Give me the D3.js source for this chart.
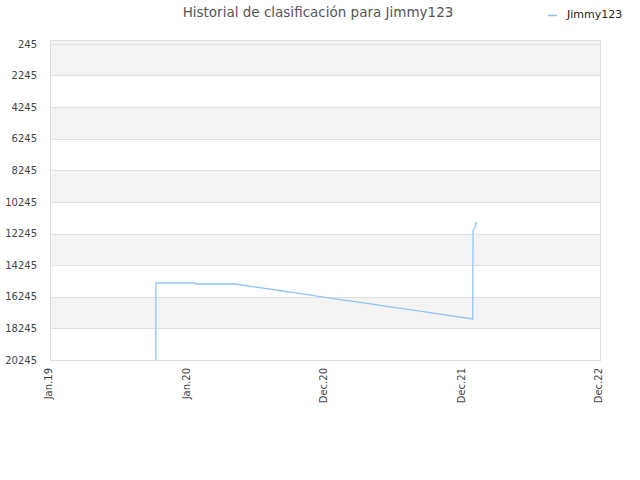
<!DOCTYPE html>
<html>
<head>
<meta charset="utf-8">
<script src="https://cdn.jsdelivr.net/npm/d3@7"></script>
<style>
  body { margin: 0; background: #fff; }
  svg { font-family: "DejaVu Sans", sans-serif; }
</style>
</head>
<body>
<div id="chart"></div>
<script>
// rank history (lower rank number = better)
const dates = [
  '2019-10-09', '2019-10-09', '2020-01-21', '2020-01-22', '2020-05-06',
  '2020-07-01', '2020-09-01', '2020-11-01', '2021-01-01', '2021-03-01',
  '2021-05-01', '2021-07-01', '2021-09-01', '2021-11-01', '2022-01-27',
  '2022-01-28', '2022-01-31', '2022-02-03', '2022-02-07'
];
const ranks = [
  20245, 15373, 15373, 15437, 15437,
  15634, 15849, 16064, 16278, 16482,
  16697, 16912, 17127, 17342, 17652,
  12084, 11957, 11830, 11514
];
const yTicks = [245, 2245, 4245, 6245, 8245, 10245, 12245, 14245, 16245, 18245, 20245];
const xTickDates = ['2019-01-01', '2020-01-01', '2020-12-31', '2021-12-31', '2022-12-31'];
const xTickLabels = ['Jan.19', 'Jan.20', 'Dec.20', 'Dec.21', 'Dec.22'];

const width = 640, height = 480;
const margin = { top: 40, right: 40, bottom: 120, left: 50 };
const parse = d3.timeParse('%Y-%m-%d');

const svg = d3.select('#chart').append('svg')
  .attr('width', width)
  .attr('height', height);

const x = d3.scaleTime()
  .domain([parse('2019-01-01'), parse('2022-12-31')])
  .range([margin.left, width - margin.right]);
const y = d3.scaleLinear()
  .domain([0, 20245])
  .range([margin.top, height - margin.bottom]);

// alternating bands
const bandEdges = [0].concat(yTicks.slice(1));
for (let i = 0; i < bandEdges.length - 1; i++) {
  svg.append('rect')
    .attr('x', margin.left)
    .attr('y', y(bandEdges[i]))
    .attr('width', width - margin.right - margin.left)
    .attr('height', y(bandEdges[i + 1]) - y(bandEdges[i]))
    .attr('fill', i % 2 === 0 ? '#f3f3f3' : '#ffffff');
}

// gridlines
svg.append('g')
  .selectAll('line')
  .data(yTicks)
  .enter().append('line')
  .attr('x1', margin.left)
  .attr('x2', width - margin.right)
  .attr('y1', d => Math.round(y(d)) + 0.5)
  .attr('y2', d => Math.round(y(d)) + 0.5)
  .attr('stroke', '#e0e0e0');

// plot frame
svg.append('rect')
  .attr('x', margin.left + 0.5)
  .attr('y', margin.top + 0.5)
  .attr('width', width - margin.right - margin.left)
  .attr('height', height - margin.bottom - margin.top)
  .attr('fill', 'none')
  .attr('stroke', '#dddddd');

// y axis
const yAxis = svg.append('g')
  .attr('transform', 'translate(' + (margin.left - 10) + ',0)')
  .call(d3.axisLeft(y).tickValues(yTicks).tickSize(0).tickFormat(d => d));
yAxis.select('.domain').remove();
yAxis.selectAll('text')
  .attr('fill', '#444')
  .attr('font-size', 10)
  .attr('font-family', '"DejaVu Sans", sans-serif');

// x axis
const xAxis = svg.append('g')
  .attr('transform', 'translate(0,' + (height - margin.bottom) + ')')
  .call(d3.axisBottom(x)
    .tickValues(xTickDates.map(parse))
    .tickSize(0)
    .tickFormat((d, i) => xTickLabels[i]));
xAxis.select('.domain').remove();
xAxis.selectAll('text')
  .attr('fill', '#444')
  .attr('font-size', 10)
  .attr('font-family', '"DejaVu Sans", sans-serif')
  .attr('text-anchor', 'end')
  .attr('transform', 'rotate(-90)')
  .attr('x', -8)
  .attr('y', -2)
  .attr('dy', '0.35em');

// the line
const data = dates.map((d, i) => ({ date: parse(d), rank: ranks[i] }));
const line = d3.line()
  .x(d => x(d.date))
  .y(d => y(d.rank));
svg.append('path')
  .datum(data)
  .attr('d', line)
  .attr('fill', 'none')
  .attr('stroke', '#90c5f5')
  .attr('stroke-width', 1.3);

// title
svg.append('text')
  .attr('x', 318)
  .attr('y', 17)
  .attr('text-anchor', 'middle')
  .attr('font-size', 13.5)
  .attr('fill', '#555')
  .text('Historial de clasificación para Jimmy123');

// legend
svg.append('line')
  .attr('x1', 548).attr('x2', 557)
  .attr('y1', 15.5).attr('y2', 15.5)
  .attr('stroke', '#90c5f5')
  .attr('stroke-width', 1.5);
svg.append('text')
  .attr('x', 567)
  .attr('y', 18)
  .attr('font-size', 11)
  .attr('fill', '#222')
  .text('Jimmy123');
</script>
</body>
</html>
